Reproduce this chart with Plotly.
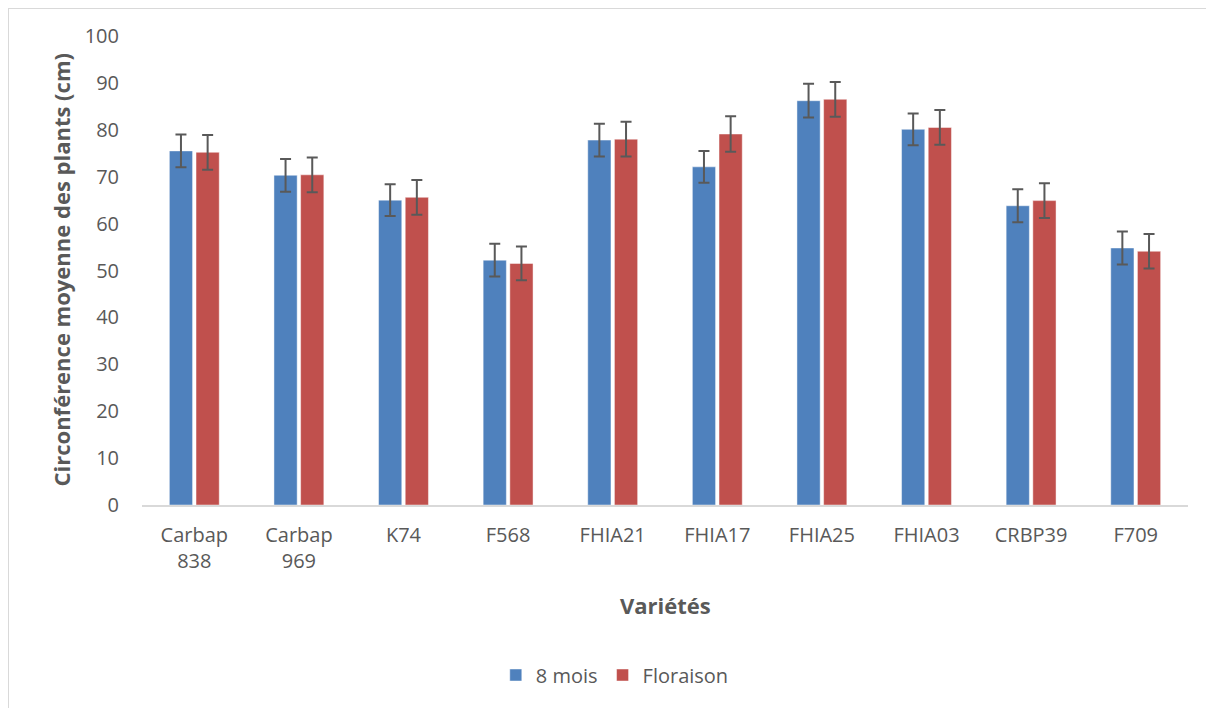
import plotly.graph_objects as go

categories = ["Carbap<br>838", "Carbap<br>969", "K74", "F568", "FHIA21", "FHIA17", "FHIA25", "FHIA03", "CRBP39", "F709"]
mois8 = [75.5, 70.3, 65.0, 52.2, 77.8, 72.1, 86.2, 80.1, 63.8, 54.8]
mois8_err = [3.5, 3.5, 3.4, 3.5, 3.5, 3.4, 3.6, 3.4, 3.5, 3.5]
floraison = [75.2, 70.4, 65.6, 51.5, 78.0, 79.1, 86.5, 80.5, 64.9, 54.1]
floraison_err = [3.7, 3.7, 3.7, 3.6, 3.7, 3.8, 3.7, 3.7, 3.7, 3.7]

font_fam = "Open Sans, Liberation Sans, sans-serif"
txt_col = "#595959"

fig = go.Figure()
fig.add_trace(go.Bar(
    x=categories, y=mois8, name="8 mois",
    marker=dict(color="#4F81BD", line=dict(color="rgba(255,255,255,0.45)", width=1)),
    error_y=dict(type="data", array=mois8_err, visible=True, color="#595959", thickness=2, width=5.5),
))
fig.add_trace(go.Bar(
    x=categories, y=floraison, name="Floraison",
    marker=dict(color="#C0504D", line=dict(color="rgba(255,255,255,0.45)", width=1)),
    error_y=dict(type="data", array=floraison_err, visible=True, color="#595959", thickness=2, width=5.5),
))

L, R, T, B = 134, 34, 28, 211
PW, PH = 1214 - L - R, 708 - T - B

fig.update_layout(
    width=1214, height=708,
    margin=dict(l=L, r=R, t=T, b=B),
    paper_bgcolor="white", plot_bgcolor="white",
    barmode="group", bargap=0.49, bargroupgap=0.13,
    font=dict(family=font_fam, size=20, color=txt_col),
    showlegend=True,
    legend=dict(orientation="h", x=0.452, xanchor="center", y=(497 - 667) / PH, yanchor="middle",
                font=dict(size=20, color=txt_col), traceorder="normal", itemwidth=30),
    xaxis=dict(showgrid=False, showline=True, linecolor="#d9d9d9", linewidth=2,
               ticks="", tickfont=dict(size=20, color=txt_col), ticklabelstandoff=11),
    yaxis=dict(range=[0, 100], dtick=10, showgrid=False, showline=False, zeroline=False,
               ticks="", tickfont=dict(size=20, color=txt_col), ticklabelstandoff=22),
    annotations=[
        dict(text="<b>Circonférence moyenne des plants (cm)</b>", xref="paper", yref="paper",
             x=(52 - L) / PW, y=0.5, xanchor="center", yanchor="middle", textangle=-90,
             showarrow=False, font=dict(size=22, color=txt_col, family=font_fam)),
        dict(text="<b>Variétés</b>", xref="paper", yref="paper",
             x=0.5, y=(497 - 597) / PH, xanchor="center", yanchor="middle",
             showarrow=False, font=dict(size=22, color=txt_col, family=font_fam)),
    ],
    shapes=[
        dict(type="rect", xref="paper", yref="paper",
             x0=(0 - L) / PW, x1=1.2, y0=-0.6, y1=(497 - 0) / PH,
             line=dict(color="#d9d9d9", width=2), fillcolor="rgba(0,0,0,0)", layer="below"),
    ],
)

fig.write_html("out.html")
